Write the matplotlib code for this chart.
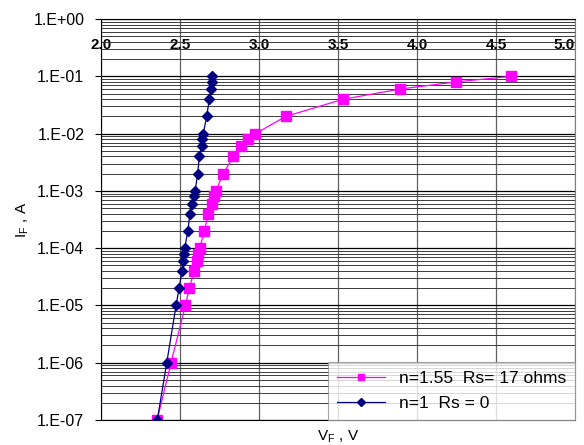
import numpy as np
import matplotlib

matplotlib.use("Agg")
import matplotlib.pyplot as plt
from matplotlib.ticker import FixedLocator, FuncFormatter, NullFormatter

plt.rcParams["font.family"] = ["Liberation Sans", "DejaVu Sans"]

# forward current levels (A), shared by both curves
current = [1e-7, 1e-6, 1e-5, 2e-5, 4e-5, 6e-5, 8e-5, 1e-4, 2e-4, 4e-4, 6e-4, 8e-4,
           1e-3, 2e-3, 4e-3, 6e-3, 8e-3, 1e-2, 2e-2, 4e-2, 6e-2, 8e-2, 1e-1]

# forward voltage (V), n=1.55 with Rs = 17 ohms
v_series = [2.355, 2.443, 2.534, 2.559, 2.589, 2.606, 2.616, 2.625, 2.654, 2.679,
            2.705, 2.713, 2.726, 2.774, 2.837, 2.884, 2.932, 2.977, 3.169, 3.534,
            3.892, 4.245, 4.593]

# forward voltage (V), ideal n=1, Rs = 0
v_ideal = [2.356, 2.416, 2.475, 2.494, 2.513, 2.521, 2.525, 2.530, 2.549, 2.563,
           2.578, 2.587, 2.595, 2.612, 2.622, 2.637, 2.638, 2.647, 2.669, 2.685,
           2.696, 2.703, 2.705]

x_ticks = [2.0, 2.5, 3.0, 3.5, 4.0, 4.5, 5.0]
decades = [-7, -6, -5, -4, -3, -2, -1, 0]

fig = plt.figure(figsize=(5.84, 4.45), dpi=100)
ax = fig.add_axes([0.173, 0.0562, 0.8116, 0.9008])

ax.set_yscale("log")
ax.set_xlim(2.0, 5.0)
ax.set_ylim(1e-7, 1.0)

ax.plot(v_series, current, color="#FF00FF", lw=0.9, marker="s", ms=6.5,
        label="n=1.55  Rs= 17 ohms", zorder=4)
ax.plot(v_ideal, current, color="#000080", lw=0.9, marker="D", ms=5.5,
        label="n=1  Rs = 0", zorder=5)

# ticks and grid
major_y = [10.0 ** d for d in decades]
minor_y = [m * 10.0 ** d for d in decades[:-1] for m in range(2, 10)]
ax.yaxis.set_major_locator(FixedLocator(major_y))
ax.yaxis.set_minor_locator(FixedLocator(minor_y))
ax.yaxis.set_minor_formatter(NullFormatter())
ax.yaxis.set_major_formatter(FuncFormatter(lambda v, p: "1.E%+03d" % round(np.log10(v))))
ax.xaxis.set_major_locator(FixedLocator(x_ticks))
ax.xaxis.set_major_formatter(FuncFormatter(lambda v, p: "%.1f" % v))

ax.grid(True, which="major", axis="y", color="black", lw=0.9)
ax.grid(True, which="minor", axis="y", color="#3a3a3a", lw=0.7)
ax.grid(True, which="major", axis="x", color="#606060", lw=0.9)

ax.tick_params(axis="y", which="major", length=4, pad=8, labelsize=11.5)
ax.tick_params(axis="y", which="minor", length=0)
ax.tick_params(axis="x", top=True, labeltop=True, bottom=False, labelbottom=False,
               length=0, pad=-24, labelsize=11)
for lbl in ax.get_xticklabels():
    lbl.set_fontweight("bold")
# last label sits on the right edge; keep it inside the canvas
ax.get_xticklabels()[-1].set_horizontalalignment("right")

for side in ["top", "bottom", "left"]:
    ax.spines[side].set_color("black")
ax.spines["right"].set_color("#808080")

ax.set_ylabel(r"I$_\mathregular{F}$ , A", fontsize=11, labelpad=2)
ax.set_xlabel(r"V$_\mathregular{F}$ , V", fontsize=11, labelpad=6)
ax.xaxis.set_label_position("bottom")

leg = ax.legend(loc="lower right", fontsize=12.5, frameon=True, fancybox=False,
                markerscale=0.7, handlelength=2.8, borderaxespad=0, borderpad=0.5,
                labelspacing=0.6)
leg.get_frame().set_edgecolor("#909090")
leg.get_frame().set_linewidth(0.8)

fig.savefig("out.png", dpi=100)
